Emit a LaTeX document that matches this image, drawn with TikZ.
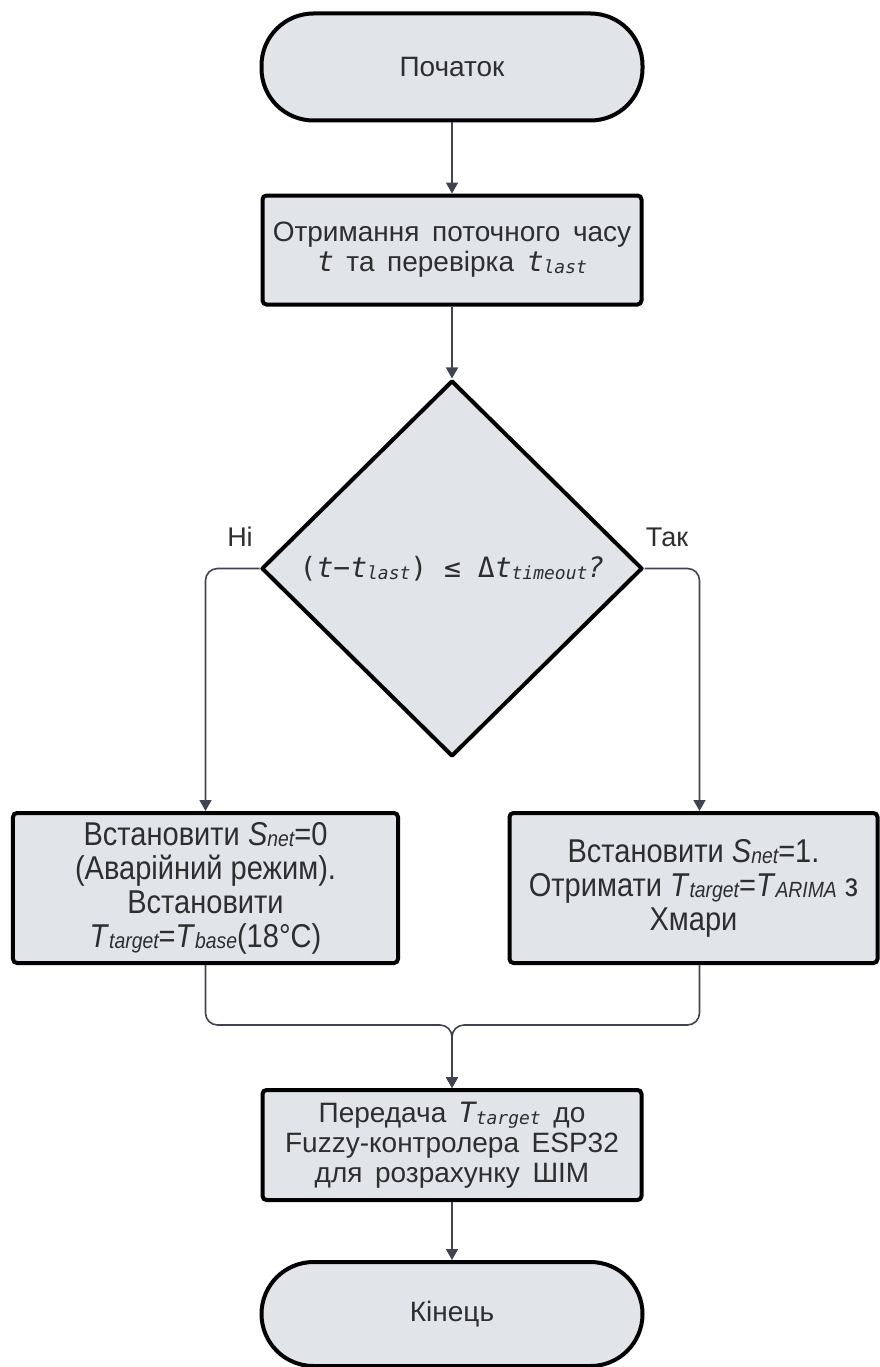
\documentclass[tikz,border=0pt]{standalone}
\usepackage{fontspec}
\setmainfont{Liberation Sans}
\newfontfamily\codefont{DejaVu Sans Mono}
\newfontfamily\narrowfont{Liberation Sans}[FakeStretch=0.88]
\usetikzlibrary{arrows.meta,positioning,shapes.geometric}
\definecolor{boxfill}{HTML}{E1E4E9}
\definecolor{linegray}{HTML}{3F4450}
\definecolor{textgray}{HTML}{2E2E2E}
\newcommand{\cv}[1]{{\codefont\itshape #1}}
\newcommand{\csub}[1]{\raisebox{-2bp}{\codefont\itshape\fontsize{18bp}{18bp}\selectfont #1}}
\newcommand{\nsub}[1]{\raisebox{-1bp}{\itshape\fontsize{22bp}{22bp}\selectfont #1}}
\newcommand{\widespace}{\spaceskip=0.45em plus 0.1em\relax}

\begin{document}
\begin{tikzpicture}[x=1bp,y=-1bp,>={Triangle[width=12bp,length=11bp]},
  node distance=71bp,
  every node/.style={text=textgray,font=\fontsize{27bp}{30bp}\selectfont},
  term node/.style={rectangle,rounded corners=52bp,draw=black,line width=4bp,fill=boxfill,
    minimum width=381bp,minimum height=107bp,font=\fontsize{28bp}{30bp}\selectfont},
  proc node/.style={rectangle,rounded corners=4bp,draw=black,line width=4bp,fill=boxfill,
    minimum width=379bp,minimum height=109bp,align=center,inner sep=0pt,
    font=\fontsize{28bp}{30bp}\selectfont\widespace},
  side node/.style={proc node,minimum height=150bp,
    font=\narrowfont\fontsize{33bp}{34bp}\selectfont},
  dec node/.style={diamond,draw=black,line width=4bp,fill=boxfill,line join=round,
    minimum width=381bp,minimum height=376bp,inner sep=0pt,
    font=\codefont\fontsize{28bp}{30bp}\selectfont},
  conn/.style={->,draw=linegray,line width=1.6bp,rounded corners=12bp}]
  \useasboundingbox (0,0) rectangle (879,1367);

  \node[term node] (start) at (452,67) {Початок};
  \node[proc node] (read) [below=71bp of start]
    {Отримання поточного часу\\\cv{t} та перевірка \cv{t}\csub{last}};
  \node[dec node] (check) [below=72bp of read]
    {(\textit{t−t}\csub{last}) ≤ Δ\textit{t}\csub{timeout}\textit{?}};
  \node (no) at (240,537) {Ні};
  \node (yes) at (667,537) {Так};

  \node[side node,minimum width=385bp] (lset) at (205.5,888)
    {Встановити \textit{S}\nsub{net}=0\\(Аварійний режим).\\Встановити\\
     \textit{T}\nsub{target}=\textit{T}\nsub{base}(18°C)};
  \node[side node,minimum width=368bp] (rset) at (693.5,888)
    {Встановити \textit{S}\nsub{net}=1.\\Отримати \textit{T}\nsub{target}=\textit{T}\nsub{ARIMA} з\\Хмари};

  \coordinate (join) at (452,1025);
  \node[proc node,minimum height=110bp] (send) at (452,1145)
    {Передача \cv{T}\csub{target} до\\Fuzzy-контролера ESP32\\для розрахунку ШІМ};
  \node[term node,minimum height=104bp] (stop) [below=58bp of send] {Кінець};

  % connectors
  \draw[conn] (start) -- (read);
  \draw[conn] (read) -- (check);
  \draw[conn] (check.west) -| (lset.north);
  \draw[conn] (check.east) -| ([xshift=6bp]rset.north);
  \draw[conn] (lset.south) |- (join) -- (send.north);
  \draw[conn] ([xshift=6bp]rset.south) |- (join) -- (send.north);
  \draw[conn] (send) -- (stop);
\end{tikzpicture}
\end{document}
